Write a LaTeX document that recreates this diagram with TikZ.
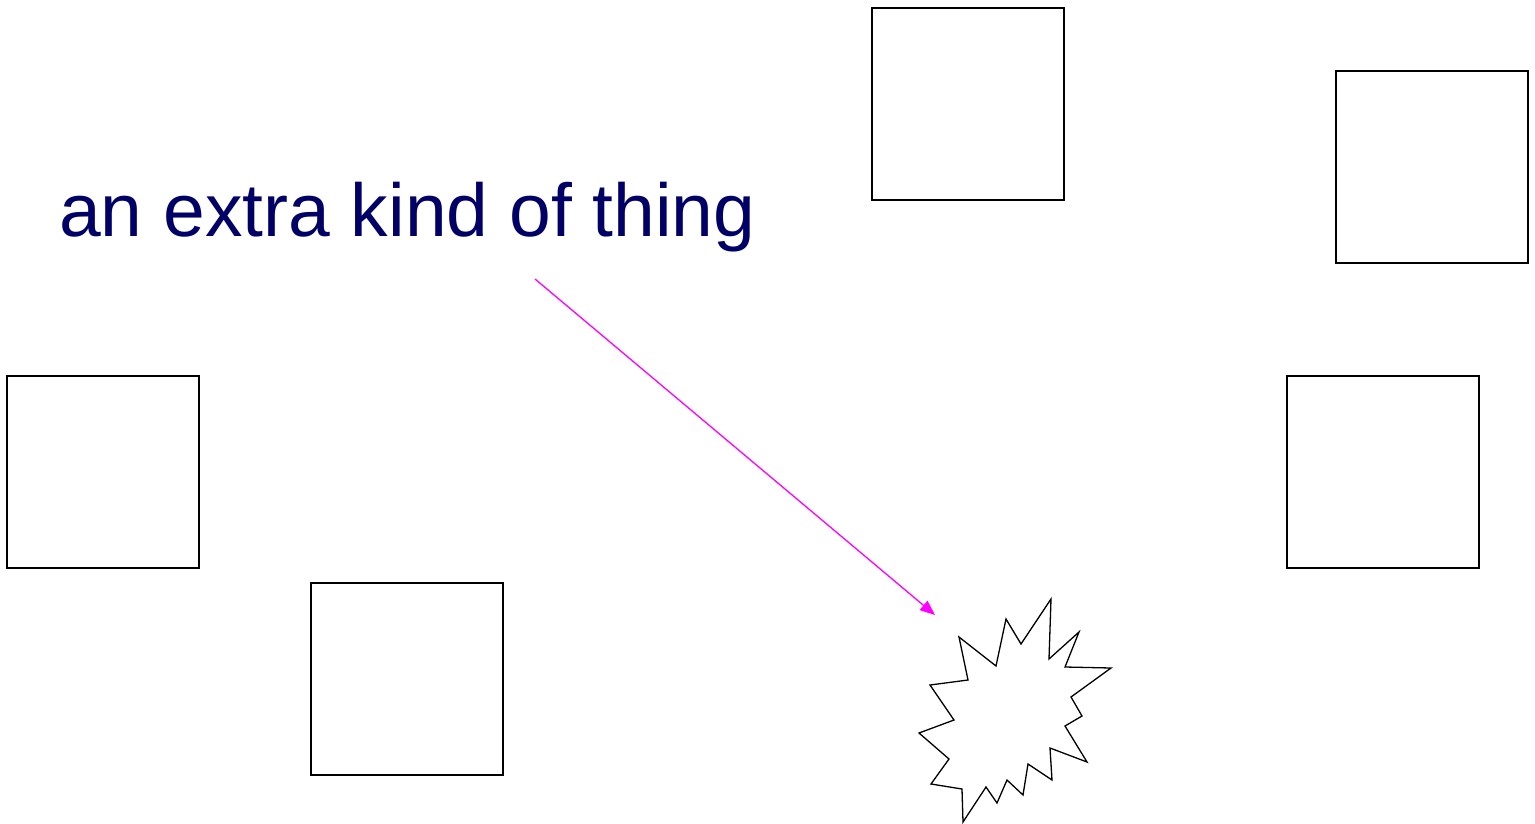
\documentclass[tikz,border=0pt]{standalone}
\usepackage{fontspec}
\setmainfont{Liberation Sans}
\usetikzlibrary{arrows.meta}
\definecolor{labelnavy}{RGB}{0,0,102}
\definecolor{pointerpink}{RGB}{255,0,255}

\begin{document}
\begin{tikzpicture}[
  x=1pt, y=-1pt,
  box/.style={draw, line width=1.3pt, minimum size=192pt, inner sep=0pt, outer sep=0pt, anchor=north west},
  pointer/.style={draw=pointerpink, line width=1.3pt, -{Triangle[length=15pt,width=12pt]}},
  label/.style={text=labelnavy, font=\fontsize{75}{86}\selectfont, anchor=base west, inner sep=0pt}
]
\useasboundingbox (0,0) rectangle (1535,823);
\node[box] (top) at (872,8) {};
\node[box] (topright) at (1336,71) {};
\node[box] (left) at (7,376) {};
\node[box] (right) at (1287,376) {};
\node[box] (bottom) at (311,583) {};
\node[label] (extra) at (59,236) {an extra kind of thing};
% the new thing
\draw[line width=1.3pt, line join=miter]
  (1051,599) -- (1049,659) -- (1079,632) -- (1065,667) -- (1111,668)
  -- (1071,697) -- (1082,716) -- (1065,726) -- (1087,762) -- (1050,748)
  -- (1052,780) -- (1028,764) -- (1023,795) -- (1007,780) -- (997,803)
  -- (986,787) -- (963,822) -- (962,789) -- (931,784) -- (949,759)
  -- (919,733) -- (954,720) -- (930,685) -- (968,680) -- (959,637)
  -- (996,666) -- (1006,619) -- (1021,644) -- cycle;
\coordinate (burst) at (935,615);
\coordinate (start) at (535,279);
\draw[pointer] (start) -- (burst);
\end{tikzpicture}
\end{document}
